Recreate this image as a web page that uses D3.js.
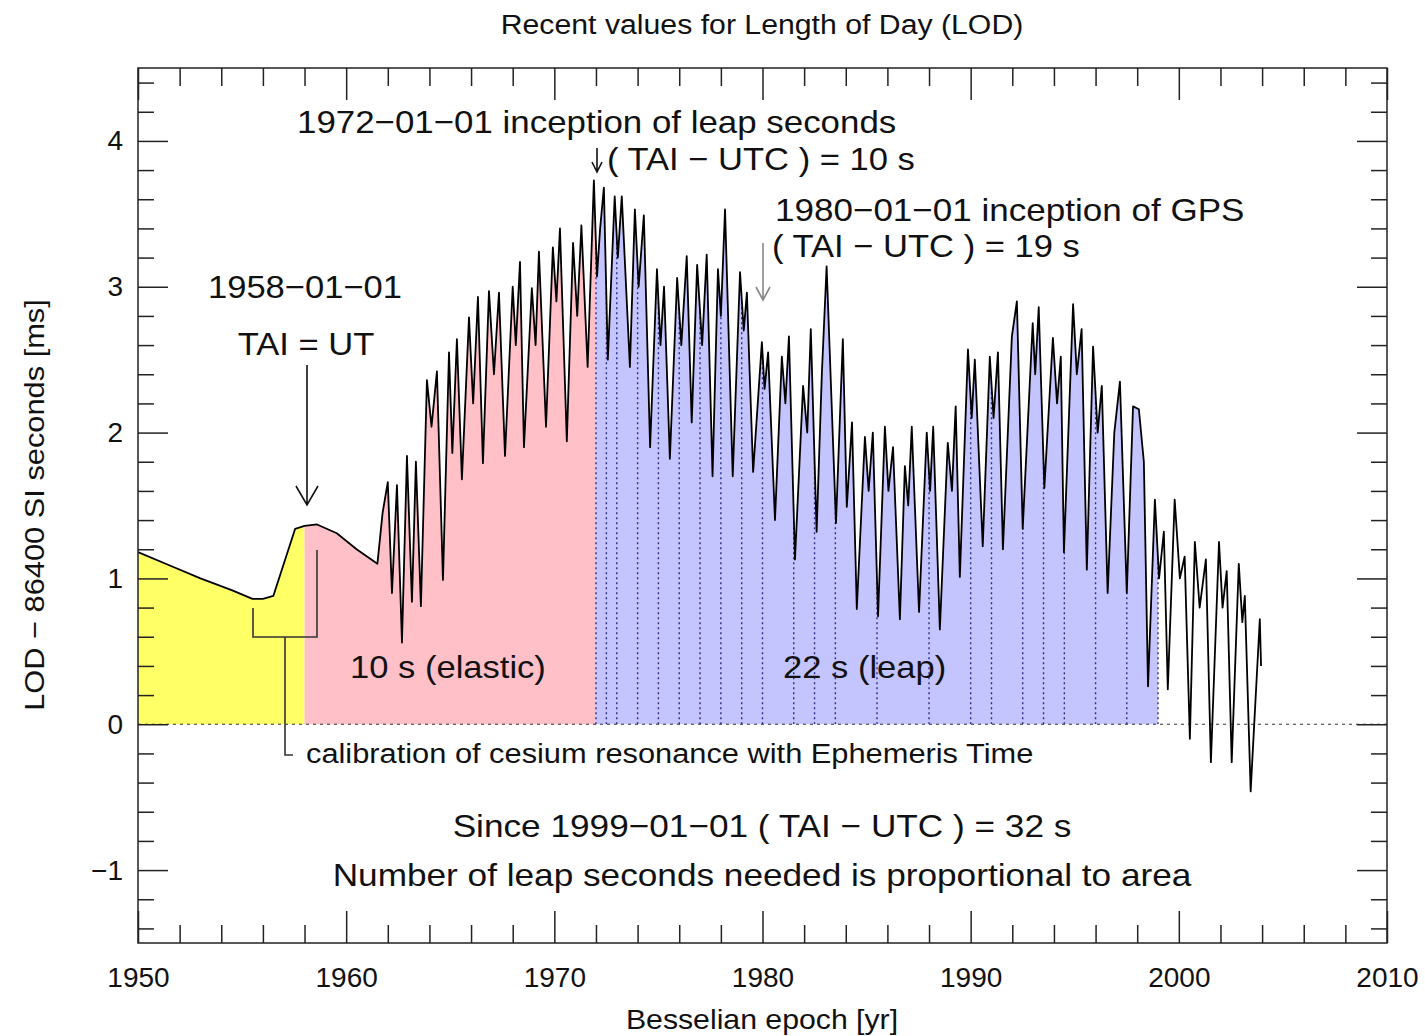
<!DOCTYPE html>
<html><head><meta charset="utf-8">
<script src="https://cdn.jsdelivr.net/npm/d3@7"></script>
<style>
body{margin:0;background:#fff}
svg{display:block}
text{font-family:"Liberation Sans",Arial,Helvetica,sans-serif;fill:#111}
</style>
</head><body>
<svg id="c" width="1425" height="1036"></svg>
<script>
// ---------------- data ----------------
const years = [1950.0,1951.5,1953.0,1954.5,1955.5,1956.0,1956.5,1957.55,1958.0,1958.6,1959.55,1960.5,1961.5,
 1961.75,1962.0,1962.2,1962.44,1962.68,1962.92,1963.16,1963.35,1963.59,1963.88,1964.1,1964.36,1964.65,1964.94,
 1965.1,1965.32,1965.56,1965.9,1966.1,1966.33,1966.57,1966.86,1967.1,1967.34,1967.63,1968.0,1968.15,1968.35,
 1968.54,1968.92,1969.1,1969.26,1969.6,1969.93,1970.1,1970.27,1970.6,1970.9,1971.1,1971.3,1971.6,1971.9,
 1972.05,1972.2,1972.38,1972.57,1972.9,1973.05,1973.24,1973.63,1973.87,1974.05,1974.3,1974.6,1974.93,1975.1,
 1975.27,1975.55,1975.9,1976.1,1976.36,1976.6,1976.86,1977.1,1977.32,1977.6,1977.86,1978.0,1978.2,1978.57,
 1978.92,1979.1,1979.25,1979.55,1979.97,1980.1,1980.27,1980.6,1980.93,1981.1,1981.27,1981.56,1981.95,1982.15,
 1982.32,1982.6,1982.85,1983.08,1983.53,1983.86,1984.05,1984.3,1984.53,1984.92,1985.1,1985.3,1985.55,1985.88,
 1986.05,1986.27,1986.6,1986.84,1987.0,1987.17,1987.52,1987.89,1988.05,1988.2,1988.52,1988.9,1989.1,1989.28,
 1989.48,1989.87,1990.05,1990.2,1990.58,1990.92,1991.1,1991.31,1991.55,1991.98,1992.22,1992.5,1992.98,1993.1,
 1993.27,1993.54,1993.95,1994.15,1994.33,1994.48,1994.92,1995.1,1995.33,1995.58,1995.88,1996.1,1996.3,1996.58,
 1996.9,1997.17,1997.5,1997.8,1998.08,1998.32,1998.52,1998.85,1999.05,1999.28,1999.47,1999.8,2000.05,2000.28,
 2000.53,2000.77,2001.0,2001.3,2001.54,2001.93,2002.1,2002.3,2002.54,2002.88,2003.05,2003.17,2003.45,2003.89,2003.95];
const lod = [1.18,1.09,1.00,0.92,0.86,0.86,0.88,1.34,1.36,1.37,1.31,1.20,1.10,
 1.45,1.66,0.90,1.64,0.56,1.84,0.84,1.80,0.81,2.36,2.04,2.42,0.99,2.55,
 1.86,2.64,1.68,2.79,2.20,2.93,1.79,2.97,2.40,2.96,1.84,3.00,2.60,3.17,
 1.90,2.99,2.60,3.24,2.04,3.27,2.90,3.40,1.94,3.30,2.80,3.42,2.45,3.73,
 3.07,3.40,3.68,2.50,3.62,3.20,3.62,2.45,3.53,3.00,3.49,1.90,3.12,2.60,
 3.00,1.82,3.06,2.60,3.21,2.07,3.15,2.60,3.22,1.70,3.12,2.80,3.53,1.70,
 3.10,2.70,2.96,1.73,2.62,2.30,2.55,1.40,2.52,2.20,2.66,1.13,2.32,2.00,
 2.71,1.32,2.40,3.14,1.38,2.64,1.49,2.07,0.79,1.97,1.60,2.00,0.74,2.04,
 1.60,1.90,0.72,1.77,1.50,2.04,0.77,2.00,1.60,2.04,0.65,1.93,1.60,2.18,
 1.01,2.57,2.10,2.50,1.22,2.52,2.10,2.55,1.20,2.66,2.90,1.34,2.75,2.40,
 2.86,1.62,2.65,2.20,2.52,1.18,2.88,2.40,2.71,1.06,2.59,2.00,2.32,0.90,
 2.00,2.35,0.90,2.18,2.16,1.80,0.26,1.54,1.00,1.32,0.24,1.54,1.00,1.15,
 -0.10,1.25,0.80,1.13,-0.26,1.25,0.80,1.05,-0.26,1.10,0.70,0.88,-0.46,0.72,0.40];
// regimes: start / end epoch of each shaded area
const eraNames = ["before TAI", "10 s (elastic)", "22 s (leap)"];
const eraStart = [1950, 1958, 1972];
const eraEnd   = [1958, 1972, 1999];
// steps of TAI-UTC (dotted lines)
const leapDates = [1972.0,1972.5,1973,1974,1975,1976,1977,1978,1979,1980,1981.5,1982.5,1983.5,
                   1985.5,1988,1990,1991,1992.5,1993.5,1994.5,1996,1997.5,1999];
const xTicks = [1950,1960,1970,1980,1990,2000,2010];
const yTicks = [-1,0,1,2,3,4];

// ---------------- drawing ----------------
const svg = d3.select("#c");
const L=138,R=1387,T=68,B=943;
const x = d3.scaleLinear([1950,2010],[L,R]);
const y = d3.scaleLinear([-1.5,4.5],[B,T]);
const data = years.map((d,i)=>({t:d,v:lod[i]}));
const eraColors = ["#ffff66","#ffc0c8","#c4c4ff"];

const defs = svg.append("defs");
const area = d3.area().x(d=>x(d.t)).y0(y(0)).y1(d=>y(d.v));
eraStart.forEach((s,i)=>{
  defs.append("clipPath").attr("id","era"+i).append("rect")
    .attr("x",x(s)).attr("y",T).attr("width",x(eraEnd[i])-x(s)).attr("height",B-T);
  svg.append("path").datum(data).attr("d",area).attr("fill",eraColors[i])
    .attr("clip-path","url(#era"+i+")");
});
// clip for dotted lines = area under the curve
defs.append("clipPath").attr("id","under").append("path").datum(data).attr("d",area);
svg.append("g").attr("clip-path","url(#under)").selectAll("line").data(leapDates).join("line")
  .attr("x1",d=>x(d)).attr("x2",d=>x(d)).attr("y1",y(0)).attr("y2",T)
  .attr("stroke","#2a2a90").attr("stroke-width",1.4).attr("stroke-dasharray","2,3");

// zero line
svg.append("line").attr("x1",L).attr("x2",R).attr("y1",y(0)).attr("y2",y(0))
  .attr("stroke","#333").attr("stroke-width",1.2).attr("stroke-dasharray","3,4");

// data line
svg.append("path").datum(data).attr("fill","none").attr("stroke","#000").attr("stroke-width",1.8)
  .attr("stroke-linejoin","round")
  .attr("d",d3.line().x(d=>x(d.t)).y(d=>y(d.v)));

// axes
const minorX = d3.range(1952,2010,2).filter(v=>v%10!==0);
const minorY = d3.range(-14,45,2).map(v=>v/10).filter(v=>Math.abs(v-Math.round(v))>1e-6);
function styleAxis(g){ g.select(".domain").remove(); g.selectAll(".tick line").attr("stroke","#222").attr("stroke-width",1.5); g.selectAll("text").attr("font-size",28).attr("fill","#111").attr("font-family","Liberation Sans, Arial, sans-serif"); }
const fmtY = d => d<0 ? "\u2212"+Math.abs(d) : String(d);
svg.append("g").attr("transform",`translate(${L},0)`).call(d3.axisLeft(y).tickValues(yTicks).tickSize(-30).tickPadding(15).tickFormat(fmtY)).call(styleAxis);
svg.append("g").attr("transform",`translate(${L},0)`).call(d3.axisLeft(y).tickValues(minorY).tickSize(-16).tickFormat("")).call(styleAxis);
svg.append("g").attr("transform",`translate(${R},0)`).call(d3.axisRight(y).tickValues(yTicks).tickSize(-30).tickFormat("")).call(styleAxis);
svg.append("g").attr("transform",`translate(${R},0)`).call(d3.axisRight(y).tickValues(minorY).tickSize(-16).tickFormat("")).call(styleAxis);
svg.append("g").attr("transform",`translate(0,${B})`).call(d3.axisBottom(x).tickValues(xTicks).tickSize(-32).tickPadding(24).tickFormat(d3.format("d"))).call(styleAxis);
svg.append("g").attr("transform",`translate(0,${B})`).call(d3.axisBottom(x).tickValues(minorX).tickSize(-18).tickFormat("")).call(styleAxis);
svg.append("g").attr("transform",`translate(0,${T})`).call(d3.axisTop(x).tickValues(xTicks).tickSize(-32).tickFormat("")).call(styleAxis);
svg.append("g").attr("transform",`translate(0,${T})`).call(d3.axisTop(x).tickValues(minorX).tickSize(-18).tickFormat("")).call(styleAxis);
svg.append("rect").attr("x",L).attr("y",T).attr("width",R-L).attr("height",B-T)
  .attr("fill","none").attr("stroke","#222").attr("stroke-width",1.5);

// text helper (slight horizontal stretch like the original raster)
function txt(px,py,s,size,anchor="start",sx=1.08,color="#111"){
  return svg.append("text").attr("transform",`translate(${px},${py}) scale(${sx},1)`)
    .attr("font-size",size).attr("text-anchor",anchor).attr("fill",color).text(s);
}
txt(762,34,"Recent values for Length of Day (LOD)",27,"middle",1.12);
txt(762,1029,"Besselian epoch [yr]",28,"middle",1.08);
svg.append("text").attr("transform","translate(44,505) rotate(-90) scale(1.1,1)").attr("font-size",28)
  .attr("text-anchor","middle").text("LOD \u2212 86400 SI seconds [ms]");

txt(297,133,"1972\u221201\u221201 inception of leap seconds",32,"start",1.09);
txt(607,170,"( TAI \u2212 UTC ) = 10 s",32);
txt(775,221,"1980\u221201\u221201 inception of GPS",32,"start",1.095);
txt(772,257,"( TAI \u2212 UTC ) = 19 s",32);
txt(305,298,"1958\u221201\u221201",32,"middle");
txt(306,355,"TAI = UT",32,"middle");
txt(350,678,"10 s (elastic)",32);
txt(783,678,"22 s (leap)",32);
txt(306,763,"calibration of cesium resonance with Ephemeris Time",28,"start",1.1);
txt(762,837,"Since 1999\u221201\u221201 ( TAI \u2212 UTC ) = 32 s",32,"middle",1.1);
txt(762,886,"Number of leap seconds needed is proportional to area",32,"middle",1.1);

// arrows
const ptr = svg.append("g").attr("fill","none").attr("stroke","#111").attr("stroke-width",1.6);
ptr.append("path").attr("d","M307,365 V505 M296,486 L307,505 L318,486");
ptr.append("path").attr("d","M597,148 V172 M592,162 L597,172 L602,162");
const gp = svg.append("g").attr("fill","none").attr("stroke","#888").attr("stroke-width",1.6);
gp.append("path").attr("d","M763,243 V300 M756,287 L763,300 L770,287");
// calibration bracket
const br = svg.append("g").attr("fill","none").attr("stroke","#333").attr("stroke-width",1.6);
br.append("path").attr("d","M253,608 V637 H317 V550 M285,637 V755 H293");
</script>
</body></html>
